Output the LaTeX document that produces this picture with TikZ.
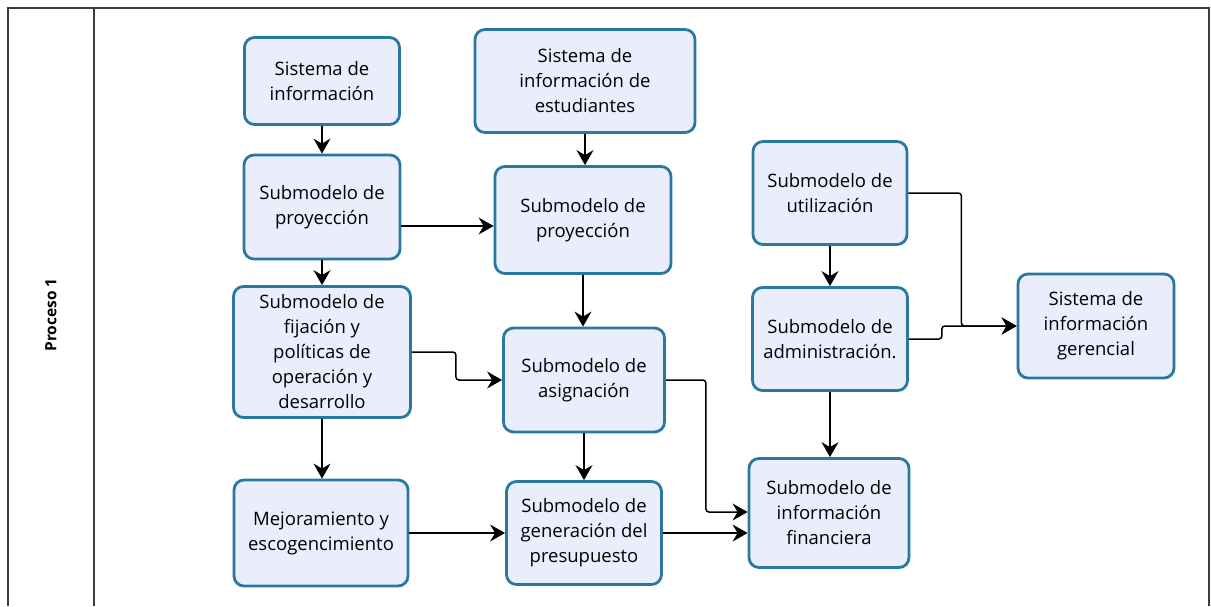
\documentclass[tikz,border=0pt]{standalone}
\usepackage{fontspec}
\setmainfont{Open Sans}
\usetikzlibrary{arrows.meta,calc}
\definecolor{boxfill}{HTML}{EAEEFC}
\definecolor{boxline}{HTML}{2A78A0}
\definecolor{framecol}{HTML}{3C3C3C}
\tikzset{
  box/.style={draw=boxline, fill=boxfill, line width=2.8pt, rounded corners=10pt,
    align=center, inner sep=2pt, font=\fontsize{18.5}{25}\selectfont},
  arr/.style={draw=black, line width=1.5pt, rounded corners=3pt,
    -{Stealth[length=15pt,width=17pt,inset=5pt]}},
  framel/.style={draw=framecol, line width=2pt}
}
\begin{document}
\begin{tikzpicture}[x=1pt,y=-1pt]
\useasboundingbox (0,0) rectangle (1211,606);
\fill[white] (0,0) rectangle (1211,606);
\draw[framel] (8,606) -- (8,8) -- (1209,8) -- (1209,606);
\draw[framel] (94,8) -- (94,606);
\node[rotate=90, font=\bfseries\fontsize{15.5}{18}\selectfont] (lane) at (51,315) {Proceso 1};

\node[box, minimum width=155pt, minimum height=87pt] (si) at (322,81) {Sistema de\\información};
\node[box, minimum width=220pt, minimum height=103pt] (sie) at (585,81) {Sistema de\\información de\\estudiantes};
\node[box, minimum width=156pt, minimum height=104pt] (sp1) at (322,207) {Submodelo de\\proyección};
\node[box, minimum width=176pt, minimum height=107pt] (sp2) at (583,220) {Submodelo de\\proyección};
\node[box, minimum width=177pt, minimum height=131pt] (fij) at (322,352) {Submodelo de\\fijación y\\políticas de\\operación y\\desarrollo};
\node[box, minimum width=161pt, minimum height=104pt] (asig) at (584,380) {Submodelo de\\asignación};
\node[box, minimum width=174pt, minimum height=106pt] (mej) at (321,533) {Mejoramiento y\\escogencimiento};
\node[box, minimum width=155pt, minimum height=103pt] (gen) at (584,533) {Submodelo de\\generación del\\presupuesto};
\node[box, minimum width=154pt, minimum height=103pt] (util) at (830,193) {Submodelo de\\utilización};
\node[box, minimum width=155pt, minimum height=103pt] (adm) at (830,339) {Submodelo de\\administración.};
\node[box, minimum width=160pt, minimum height=109pt] (fin) at (829,513) {Submodelo de\\información\\financiera};
\node[box, minimum width=156pt, minimum height=104pt] (ger) at (1096,326) {Sistema de\\información\\gerencial};

\draw[arr] (si.south) -- (sp1.north);
\draw[arr] (sie.south) -- (sie.south |- sp2.north);
\draw[arr] ($(sp1.east)+(0,19)$) -- ($(sp2.west)+(0,6)$);
\draw[arr] (sp1.south) -- (fij.north);
\draw[arr] (sp2.south) -- (sp2.south |- asig.north);
\draw[arr] (fij.east) -- ++(44,0) |- (asig.west);
\draw[arr] (fij.south) -- (fij.south |- mej.north);
\draw[arr] (asig.south) -- (gen.north);
\draw[arr] (mej.east) -- (gen.west);
\draw[arr] (asig.east) -- ++(40,0) |- ($(fin.west)+(0,-1)$);
\draw[arr] (gen.east) -- (gen.east -| fin.west);
\draw[arr] (util.south) -- (adm.north);
\draw[arr] (adm.south) -- (adm.south |- fin.north);
\draw[arr] (util.east) -- ++(53,0) |- (ger.west);
\draw[arr] (adm.east) -- ++(33,0) |- (ger.west);
\end{tikzpicture}
\end{document}
